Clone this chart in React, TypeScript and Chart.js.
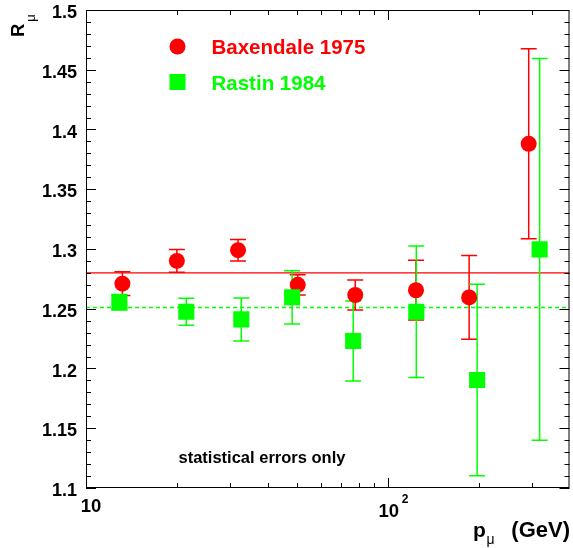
import React, { useEffect, useRef } from "react";
import { Chart, registerables } from "chart.js";

Chart.register(...registerables);

// ---- data ----
const baxMomentum = [13.2, 20.0, 31.9, 50.3, 78.0, 124.0, 186.0, 293.0];
const baxRatio = [1.271, 1.29, 1.299, 1.27, 1.2615, 1.2655, 1.2595, 1.388];
const baxError = [0.01, 0.0095, 0.009, 0.0085, 0.0125, 0.025, 0.035, 0.0795];

const rasMomentum = [12.9, 21.5, 32.7, 48.2, 76.8, 124.3, 197.7, 318.5];
const rasRatio = [1.2555, 1.2475, 1.2411, 1.2596, 1.223, 1.2475, 1.1904, 1.2997];
const rasError = [0.0065, 0.0113, 0.018, 0.0223, 0.0335, 0.055, 0.0802, 0.1597];

const baxMean = 1.28;
const rasMean = 1.251;

const xRange = [10, 400];
const yRange = [1.1, 1.5];
const yTickLabels = ["1.1", "1.15", "1.2", "1.25", "1.3", "1.35", "1.4", "1.45", "1.5"];
const xMajorTicks = [10, 100];
const xMajorMantissa = ["10", "10"];
const xMajorExponent = ["", "2"];
const xMinorTicks = [20, 30, 40, 50, 60, 70, 80, 90, 200, 300];

const RED = "#ff0000";
const GREEN = "#00ff00";
const FONT = "'Liberation Sans', Arial, Helvetica, sans-serif";

const rootStyle = {
  id: "rootStyle",
  beforeDatasetDraw(chart: any, args: any) {
    if (args.index !== 1) return;
    const ctx = chart.ctx;
    const xs = chart.scales.x;
    const ys = chart.scales.y;
    const drawBars = (xv: number[], yv: number[], ev: number[], color: string) => {
      ctx.save();
      ctx.strokeStyle = color;
      ctx.lineWidth = 1.5;
      for (let i = 0; i < xv.length; i++) {
        const px = xs.getPixelForValue(xv[i]);
        const pt = ys.getPixelForValue(yv[i] + ev[i]);
        const pb = ys.getPixelForValue(yv[i] - ev[i]);
        ctx.beginPath();
        ctx.moveTo(px, pt);
        ctx.lineTo(px, pb);
        ctx.moveTo(px - 8, pt);
        ctx.lineTo(px + 8, pt);
        ctx.moveTo(px - 8, pb);
        ctx.lineTo(px + 8, pb);
        ctx.stroke();
      }
      ctx.restore();
    };
    drawBars(baxMomentum, baxRatio, baxError, RED);
    drawBars(rasMomentum, rasRatio, rasError, GREEN);
  },
  afterDraw(chart: any) {
    const ctx = chart.ctx;
    const xs = chart.scales.x;
    const ys = chart.scales.y;
    const { left, right, top, bottom } = chart.chartArea;
    ctx.save();
    // frame
    ctx.strokeStyle = "#000";
    ctx.lineWidth = 1;
    ctx.strokeRect(left + 0.5, top + 0.5, right - left - 1, bottom - top - 1);

    // y ticks (both sides)
    ctx.beginPath();
    for (let k = 0; k <= 40; k++) {
      const v = yRange[0] + k * 0.01;
      const py = Math.round(ys.getPixelForValue(v)) + 0.5;
      const len = k % 5 === 0 ? 10 : 5;
      ctx.moveTo(left, py);
      ctx.lineTo(left + len, py);
      ctx.moveTo(right, py);
      ctx.lineTo(right - len, py);
    }
    // x ticks (both sides)
    const xt = [...xMajorTicks.map((v) => [v, 10]), ...xMinorTicks.map((v) => [v, 5])];
    for (const [v, len] of xt) {
      const px = Math.round(xs.getPixelForValue(v)) + 0.5;
      ctx.moveTo(px, bottom);
      ctx.lineTo(px, bottom - len);
      ctx.moveTo(px, top);
      ctx.lineTo(px, top + len);
    }
    ctx.stroke();

    // y tick labels
    ctx.fillStyle = "#000";
    ctx.font = `bold 18px ${FONT}`;
    ctx.textAlign = "right";
    ctx.textBaseline = "alphabetic";
    for (const lab of yTickLabels) {
      const py = ys.getPixelForValue(parseFloat(lab));
      ctx.fillText(lab, left - 9, py + 8);
    }

    // x tick labels
    ctx.textAlign = "center";
    xMajorTicks.forEach((v, i) => {
      const px = xs.getPixelForValue(v);
      if (xMajorExponent[i]) {
        ctx.font = `bold 18.5px ${FONT}`;
        ctx.fillText(xMajorMantissa[i], px + 1, bottom + 28.5);
        ctx.font = `bold 12px ${FONT}`;
        ctx.textAlign = "left";
        ctx.fillText(xMajorExponent[i], px + 14, bottom + 15);
        ctx.textAlign = "center";
      } else {
        ctx.font = `bold 18.5px ${FONT}`;
        ctx.fillText(xMajorMantissa[i], px + 5, bottom + 23.5);
      }
    });

    // x axis title
    ctx.textAlign = "left";
    ctx.font = `bold 21px ${FONT}`;
    ctx.fillText("p", 473, 536.5);
    ctx.font = `14px ${FONT}`;
    ctx.fillText("μ", 486.5, 543.5);
    ctx.font = `bold 22px ${FONT}`;
    ctx.textAlign = "right";
    ctx.fillText("(GeV)", right + 0.5, 536.5);

    // y axis title (rotated)
    ctx.save();
    ctx.translate(23.5, 37);
    ctx.rotate(-Math.PI / 2);
    ctx.textAlign = "left";
    ctx.font = `bold 18.5px ${FONT}`;
    ctx.fillText("R", 0, 0);
    const rw = ctx.measureText("R").width;
    ctx.font = `13px ${FONT}`;
    ctx.fillText("μ", rw + 2, 11);
    ctx.restore();

    // legend
    ctx.fillStyle = RED;
    ctx.beginPath();
    ctx.arc(177.5, 46.5, 8, 0, Math.PI * 2);
    ctx.fill();
    ctx.fillStyle = GREEN;
    ctx.fillRect(169.5, 74, 16, 16);
    ctx.textAlign = "left";
    ctx.font = `bold 20.5px ${FONT}`;
    ctx.fillStyle = RED;
    ctx.fillText("Baxendale 1975", 211.5, 54);
    ctx.fillStyle = GREEN;
    ctx.fillText("Rastin 1984", 211.5, 90);

    // annotation
    ctx.fillStyle = "#000";
    ctx.font = `bold 16.5px ${FONT}`;
    ctx.fillText("statistical errors only", 178.5, 462.5);
    ctx.restore();
  },
};

export default function App() {
  const ref = useRef<HTMLCanvasElement | null>(null);
  useEffect(() => {
    if (!ref.current) return;
    const chart = new Chart(ref.current, {
      type: "scatter",
      data: {
        datasets: [
          {
            label: "Rastin 1984",
            data: rasMomentum.map((x, i) => ({ x, y: rasRatio[i] })),
            pointStyle: "rect",
            pointRadius: 11.4,
            backgroundColor: GREEN,
            borderWidth: 0,
            showLine: false,
          },
          {
            label: "Baxendale 1975",
            data: baxMomentum.map((x, i) => ({ x, y: baxRatio[i] })),
            pointStyle: "circle",
            pointRadius: 8,
            backgroundColor: RED,
            borderWidth: 0,
            showLine: false,
          },
          {
            label: "Rastin mean",
            type: "line",
            data: [
              { x: xRange[0], y: rasMean },
              { x: xRange[1], y: rasMean },
            ],
            borderColor: GREEN,
            borderWidth: 1.4,
            borderDash: [4, 3],
            pointRadius: 0,
            fill: false,
          },
          {
            label: "Baxendale mean",
            type: "line",
            data: [
              { x: xRange[0], y: baxMean },
              { x: xRange[1], y: baxMean },
            ],
            borderColor: RED,
            borderWidth: 1.3,
            pointRadius: 0,
            fill: false,
          },
        ] as any,
      },
      options: {
        animation: false,
        responsive: false,
        devicePixelRatio: 1,
        layout: { autoPadding: false, padding: { left: 86, top: 10, right: 3.5, bottom: 60 } },
        scales: {
          x: { type: "logarithmic", min: xRange[0], max: xRange[1], display: false },
          y: { type: "linear", min: yRange[0], max: yRange[1], display: false },
        },
        plugins: {
          legend: { display: false },
          tooltip: { enabled: false },
        },
      },
      plugins: [rootStyle],
    });
    return () => chart.destroy();
  }, []);
  return (
    <div style={{ position: "fixed", left: 0, top: 0, width: 573, height: 548, background: "#fff" }}>
      <canvas ref={ref} width={573} height={548} style={{ width: 573, height: 548 }} />
    </div>
  );
}
